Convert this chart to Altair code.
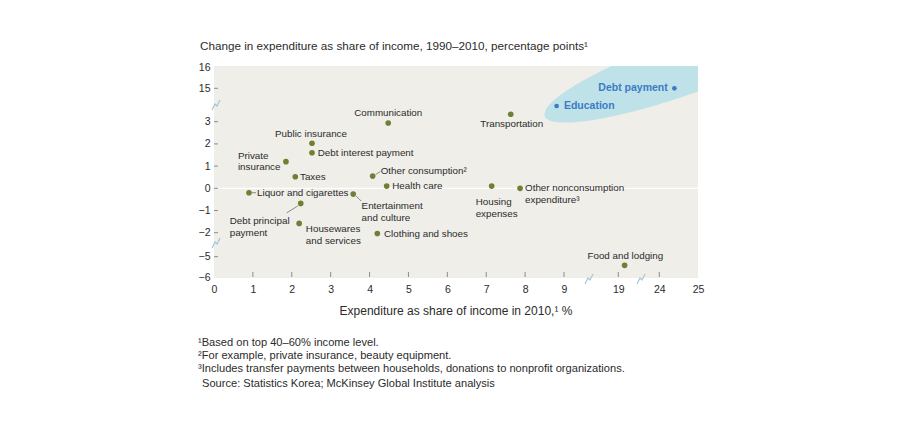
import altair as alt
import numpy as np
import pandas as pd

# ---------------- data ----------------
categories = [
    "Communication", "Public insurance", "Debt interest payment", "Private\ninsurance",
    "Taxes", "Liquor and cigarettes", "Debt principal\npayment", "Housewares\nand services",
    "Entertainment\nand culture", "Other consumption²", "Health care", "Clothing and shoes",
    "Housing\nexpenses", "Other nonconsumption\nexpenditure³", "Transportation",
    "Education", "Debt payment", "Food and lodging",
]
share_2010 = [4.48, 2.52, 2.52, 1.85, 2.09, 0.90, 2.23, 2.19, 3.58, 4.08, 4.44, 4.20,
              7.14, 7.87, 7.63, 8.81, 24.39, 19.77]
change_pp = [2.94, 2.03, 1.60, 1.20, 0.52, -0.20, -0.68, -1.58, -0.26, 0.55, 0.10, -2.10,
             0.10, 0.00, 5.66, 8.64, 15.0, -5.42]
highlight = ["Education", "Debt payment"]

x_tick_values = [0, 1, 2, 3, 4, 5, 6, 7, 8, 9, 19, 24, 25]
y_tick_values = [-6, -5, -2, -1, 0, 1, 2, 3, 15, 16]

title_text = "Change in expenditure as share of income, 1990–2010, percentage points¹"
x_title_text = "Expenditure as share of income in 2010,¹ %"
footnotes = [
    "¹Based on top 40–60% income level.",
    "²For example, private insurance, beauty equipment.",
    "³Includes transfer payments between households, donations to nonprofit organizations.",
    "Source: Statistics Korea; McKinsey Global Institute analysis",
]

# ---------------- layout / style ----------------
W, H = 484, 212
X_DOMAIN = [0, 9, 19, 24, 25]
X_RANGE = [0, 350, 404.3, 445.3, 484]
Y_DOMAIN = [-6, -5, -2, 3, 15, 16]
Y_RANGE = [211.3, 190.7, 166.7, 55.7, 22.3, 1.3]

FONT = "Liberation Sans"
OLIVE = "#717f34"
BLUE = "#3a7bc6"
TXT = "#2b2b2b"
BG = "#efeee8"
HILITE = "#bfe2e9"
BREAK = "#9fc4d8"

label_layout = {  # align, dx, dy
    "Communication": ("center", 0, -10.5),
    "Public insurance": ("center", -1, -9.5),
    "Debt interest payment": ("left", 5.7, 0.5),
    "Private\ninsurance": ("left", -48, -6),
    "Taxes": ("left", 4.7, 0.5),
    "Liquor and cigarettes": ("left", 8, 0),
    "Debt principal\npayment": ("left", -71, 18),
    "Housewares\nand services": ("left", 6.7, 6),
    "Entertainment\nand culture": ("left", 8.4, 12),
    "Other consumption²": ("left", 8, -5.3),
    "Health care": ("left", 5.6, 0),
    "Clothing and shoes": ("left", 6.7, 0),
    "Housing\nexpenses": ("left", -16, 16),
    "Other nonconsumption\nexpenditure³": ("left", 5, 0),
    "Transportation": ("center", 1, 10),
    "Education": ("left", 7.3, 0),
    "Debt payment": ("right", -6.6, 0),
    "Food and lodging": ("center", 0.7, -9.5),
}
leaders = {  # x1off, y1off, x2off, y2off (pixels from the point)
    "Liquor and cigarettes": (3, 0, 7, 0),
    "Debt principal\npayment": (-3, 2.5, -14, 9.5),
    "Entertainment\nand culture": (3, 2, 8, 7),
    "Other consumption²": (3, -1.5, 7.5, -4.5),
}

XAX = alt.Axis(values=x_tick_values, format="d", ticks=False, domain=False, grid=False,
               labelPadding=6, labelFontSize=10.5, labelColor=TXT, labelFont=FONT,
               labelFlush=False, labelOverlap=False, title=None)
YAX = alt.Axis(values=y_tick_values, format="d", ticks=False, domain=False, grid=False,
               labelPadding=4, labelFontSize=10.5, labelColor=TXT, labelFont=FONT,
               labelFlush=False, labelOverlap=False, title=None)


def X(field):
    return alt.X(field, scale=alt.Scale(domain=X_DOMAIN, range=X_RANGE, nice=False, zero=False), axis=XAX)


def Y(field):
    return alt.Y(field, scale=alt.Scale(domain=Y_DOMAIN, range=Y_RANGE, nice=False, zero=False), axis=YAX)


def oxs():
    return alt.Scale(domain=[0, W], range=[0, W], nice=False, zero=False)


def oys():
    return alt.Scale(domain=[0, H], range=[0, H], nice=False, zero=False)


df = pd.DataFrame({"name": categories, "x": share_2010, "y": change_pp})
df["grp"] = np.where(df["name"].isin(highlight), "hi", "base")

# ---------------- highlight ellipse (pixel space of plot) ----------------
cx, cy, ea, eb, ang = 472.0, 0.0, 150.0, 28.0, np.radians(19.5)
c, s = np.cos(ang), np.sin(ang)
xmax = np.sqrt(ea**2 * c**2 + eb**2 * s**2)
ex = np.linspace(cx - xmax, cx + xmax, 240)
A = s**2 / ea**2 + c**2 / eb**2
dxs = ex - cx
B = 2 * dxs * s * c * (1 / eb**2 - 1 / ea**2)
C = dxs**2 * (c**2 / ea**2 + s**2 / eb**2) - 1
disc = np.clip(B**2 - 4 * A * C, 0, None)
ey1 = cy + (-B - np.sqrt(disc)) / (2 * A)
ey2 = cy + (-B + np.sqrt(disc)) / (2 * A)
ell = pd.DataFrame({"ex": ex, "ey1": ey1, "ey2": ey2})
ell = ell[ell["ex"] <= W + 2]

ellipse = alt.Chart(ell).mark_area(color=HILITE, clip=True).encode(
    x=alt.X("ex:Q", scale=oxs(), axis=None),
    y=alt.Y("ey1:Q", scale=oys(), axis=None),
    y2="ey2:Q",
)

# ---------------- main layers ----------------
points = alt.Chart(df).mark_circle(opacity=1).encode(
    x=X("x:Q"),
    y=Y("y:Q"),
    color=alt.Color("grp:N", scale=alt.Scale(domain=["base", "hi"], range=[OLIVE, BLUE]), legend=None),
    size=alt.Size("grp:N", scale=alt.Scale(domain=["base", "hi"], range=[32, 22]), legend=None),
)

zero = alt.Chart(pd.DataFrame({"z": [0]})).mark_rule(color="white", strokeWidth=1.3).encode(
    y=Y("z:Q")
)

label_layers = []
for i, name in enumerate(categories):
    al, ddx, ddy = label_layout[name]
    is_hi = name in highlight
    label_layers.append(
        alt.Chart(df.iloc[[i]]).mark_text(
            align=al, baseline="middle", dx=ddx, dy=ddy, font=FONT,
            fontSize=10.5 if is_hi else 9.8,
            fontWeight="bold" if is_hi else "normal",
            color=BLUE if is_hi else TXT, lineBreak="\n", lineHeight=11.5,
        ).encode(x=X("x:Q"), y=Y("y:Q"), text="name:N")
    )

leader_layers = []
for name, (x1, y1, x2, y2) in leaders.items():
    i = categories.index(name)
    leader_layers.append(
        alt.Chart(df.iloc[[i]]).mark_rule(
            color="#6f6f6f", strokeWidth=0.8,
            xOffset=x1, yOffset=y1, x2Offset=x2, y2Offset=y2,
        ).encode(x=X("x:Q"), y=Y("y:Q"), x2="x:Q", y2="y:Q")
    )

xt = pd.DataFrame({"t": [v for v in x_tick_values if v not in (0, 25)]})
xticks = alt.Chart(xt).mark_rule(color="#8c8c8c", strokeWidth=1).encode(
    x=X("t:Q"), y=alt.value(H - 6), y2=alt.value(H - 1)
)
yt = pd.DataFrame({"t": [v for v in y_tick_values if v not in (-6, 16)]})
yticks = alt.Chart(yt).mark_rule(color="#8c8c8c", strokeWidth=1).encode(
    y=Y("t:Q"), x=alt.value(0), x2=alt.value(4)
)

main = alt.layer(zero, *leader_layers, points, *label_layers, xticks, yticks)

# ---------------- axis-break marks & text annotations ----------------
break_centers = [(2, 39), (2, 177), (375, 213), (427, 213)]
zig = [(-4, 5), (-1, -1), (1, 1), (4, -5)]
brows = []
for k, (bx, by) in enumerate(break_centers):
    for j, (zx, zy) in enumerate(zig):
        brows.append({"bx": bx + zx, "by": by + zy, "id": k, "o": j})
breaks = alt.Chart(pd.DataFrame(brows)).mark_line(color=BREAK, strokeWidth=1.1).encode(
    x=alt.X("bx:Q", scale=oxs(), axis=None),
    y=alt.Y("by:Q", scale=oys(), axis=None),
    detail="id:N",
    order="o:Q",
)

one = pd.DataFrame({"d": [0]})
texts = [
    alt.Chart(one).mark_text(text=title_text, align="left", baseline="middle", font=FONT,
                             fontSize=11.7, color=TXT).encode(x=alt.value(-14), y=alt.value(-20)),
    alt.Chart(one).mark_text(text=x_title_text, align="center", baseline="middle", font=FONT,
                             fontSize=12, color=TXT).encode(x=alt.value(242), y=alt.value(245)),
]
foot_y = [277, 290, 303, 318]
foot_x = [-16, -16, -16, -12]
for t, fx, fy in zip(footnotes, foot_x, foot_y):
    texts.append(
        alt.Chart(one).mark_text(text=t, align="left", baseline="middle", font=FONT,
                                 fontSize=11.1, color=TXT).encode(x=alt.value(fx), y=alt.value(fy))
    )

top = alt.layer(breaks, *texts)

chart = (
    alt.layer(ellipse, main, top)
    .resolve_scale(x="independent", y="independent")
    .properties(
        width=W, height=H,
        autosize=alt.AutoSizeParams(type="none"),
        padding={"left": 206, "top": 58, "right": 190, "bottom": 140},
        background="white",
    )
    .configure_view(stroke=None, fill=BG)
)

chart.save("out.html", embed_options={"renderer": "svg", "actions": False})
